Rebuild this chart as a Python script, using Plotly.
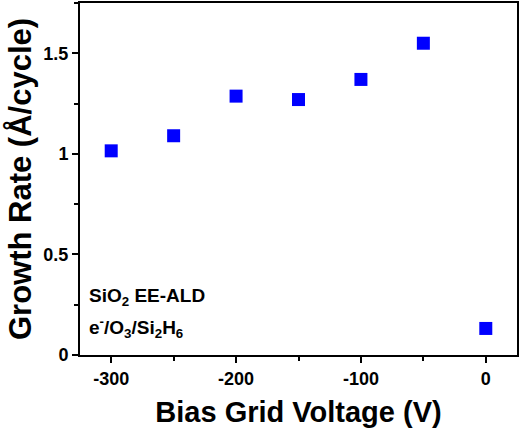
import plotly.graph_objects as go

voltage = [-300, -250, -200, -150, -100, -50, 0]
growth_rate = [1.015, 1.09, 1.287, 1.27, 1.37, 1.55, 0.132]

x_ticks = [-300, -200, -100, 0]
x_tick_text = ["-300", "-200", "-100", "0"]
y_ticks = [0, 0.5, 1, 1.5]
y_tick_text = ["0", "0.5", "1", "1.5"]

font = "Liberation Sans"

fig = go.Figure()
fig.add_trace(go.Scatter(
    x=voltage,
    y=growth_rate,
    mode="markers",
    marker=dict(symbol="square", size=13, color="#0000ff"),
    showlegend=False,
))

axis_common = dict(
    showline=True, linecolor="black", linewidth=2, mirror=True,
    showgrid=False, zeroline=False,
    ticks="outside", ticklen=6, tickwidth=2, tickcolor="black",
    tickfont=dict(family=font, size=18, color="black", weight="bold"),
    minor=dict(ticks="outside", ticklen=4, tickwidth=2, tickcolor="black"),
)

fig.update_xaxes(
    range=[-325, 25], tickvals=x_ticks, ticktext=x_tick_text,
    minor_dtick=50, minor_tick0=-300,
    title=dict(text="<b>Bias Grid Voltage (V)</b>", font=dict(family=font, size=29, color="black"), standoff=14),
    **axis_common,
)
fig.update_yaxes(
    range=[0, 1.75], tickvals=y_ticks, ticktext=y_tick_text,
    minor_dtick=0.25, minor_tick0=0,
    title=dict(text="<b>Growth Rate (Å/cycle)</b>", font=dict(family=font, size=31, color="black"), standoff=3),
    **axis_common,
)

fig.add_annotation(
    x=-319, y=0.29, xref="x", yref="y", xanchor="left", yanchor="middle",
    text="<b>SiO<sub>2</sub> EE-ALD</b>", showarrow=False,
    font=dict(family=font, size=19, color="black"),
)
fig.add_annotation(
    x=-319, y=0.135, xref="x", yref="y", xanchor="left", yanchor="middle",
    text="<b>e<sup>-</sup>/O<sub>3</sub>/Si<sub>2</sub>H<sub>6</sub></b>", showarrow=False,
    font=dict(family=font, size=19, color="black"),
)

fig.update_layout(
    width=520, height=432,
    margin=dict(l=80, r=3, t=1, b=77),
    plot_bgcolor="white", paper_bgcolor="white",
)

fig.write_html("out.html", config={"displayModeBar": False},
               post_script="document.body.style.margin='0';")
